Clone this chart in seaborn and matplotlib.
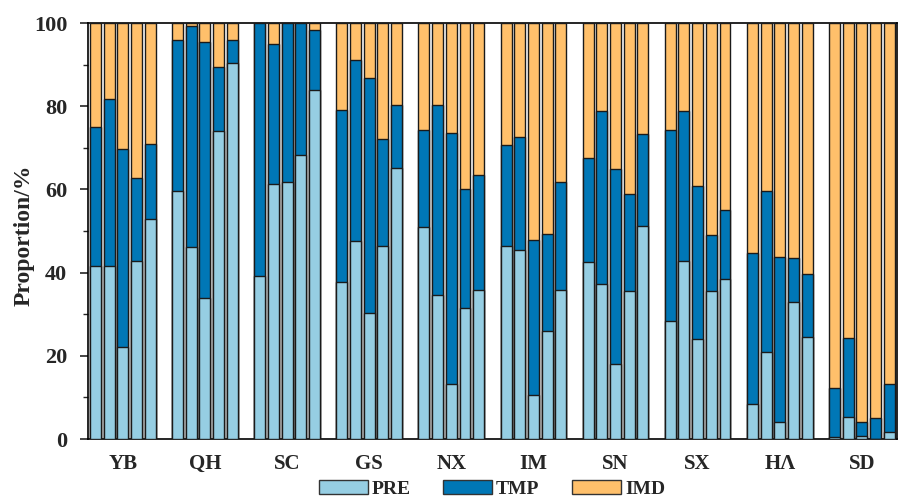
import numpy as np
import pandas as pd
import matplotlib
matplotlib.use("Agg")
import matplotlib.pyplot as plt
import seaborn as sns
from matplotlib.patches import Patch
from matplotlib.ticker import MultipleLocator

regions = ["YB", "QH", "SC", "GS", "NX", "IM", "SN", "SX", "HΛ", "SD"]
series = ["PRE", "TMP", "IMD"]

# PRE share (%) for the 5 bars of each region
pre = [
    [41.7, 41.6, 22.2, 42.8, 52.8],   # YB
    [59.5, 46.1, 34.0, 74.1, 90.3],   # QH
    [39.2, 61.2, 61.7, 68.3, 83.8],   # SC
    [37.8, 47.5, 30.2, 46.4, 65.2],   # GS
    [51.0, 34.5, 13.2, 31.6, 35.9],   # NX
    [46.4, 45.5, 10.6, 26.0, 35.7],   # IM
    [42.6, 37.2, 18.0, 35.5, 51.1],   # SN
    [28.3, 42.7, 24.0, 35.5, 38.5],   # SX
    [8.5, 20.8, 4.2, 33.0, 24.4],     # HA
    [0.4, 5.4, 0.8, 0.0, 1.8],        # SD
]
# TMP share (%)
tmp = [
    [33.3, 40.2, 47.4, 20.0, 18.0],
    [36.5, 53.3, 61.4, 15.3, 5.6],
    [60.8, 33.8, 38.3, 31.7, 14.5],
    [41.2, 43.7, 56.7, 25.6, 15.2],
    [23.3, 45.9, 60.4, 28.4, 27.6],
    [24.3, 27.1, 37.2, 23.4, 26.0],
    [24.9, 41.6, 46.9, 23.4, 22.1],
    [46.1, 36.2, 36.7, 13.5, 16.5],
    [36.2, 38.7, 39.6, 10.5, 15.3],
    [11.9, 18.8, 3.2, 5.0, 11.4],
]
# IMD share (%)
imd = [
    [25.0, 18.2, 30.4, 37.2, 29.2],
    [4.0, 0.6, 4.6, 10.6, 4.1],
    [0.0, 5.0, 0.0, 0.0, 1.7],
    [21.0, 8.8, 13.1, 28.0, 19.6],
    [25.7, 19.6, 26.4, 40.0, 36.5],
    [29.3, 27.4, 52.2, 50.6, 38.3],
    [32.5, 21.2, 35.1, 41.1, 26.8],
    [25.6, 21.1, 39.3, 51.0, 45.0],
    [55.3, 40.5, 56.2, 56.5, 60.3],
    [87.7, 75.8, 96.0, 95.0, 86.8],
]

colors = {"PRE": "#96CEE3", "TMP": "#0077B6", "IMD": "#FFC06B"}

rows = []
for g, reg in enumerate(regions):
    for j in range(5):
        p, t, m = pre[g][j], tmp[g][j], imd[g][j]
        rows.append({"pos": g * 6 + j, "region": reg,
                     "PRE": p, "PRE_TMP": p + t, "ALL": p + t + m})
df = pd.DataFrame(rows)

sns.set_style("ticks")
plt.rcParams["font.family"] = ["Liberation Serif", "DejaVu Serif"]
plt.rcParams["font.weight"] = "bold"

fig = plt.figure(figsize=(9.04, 4.97), dpi=100)
ax = fig.add_axes([0.0973, 0.1167, 0.8947, 0.837])

kw = dict(native_scale=True, width=0.8, edgecolor="#1a1a1a", linewidth=1.0,
          errorbar=None, ax=ax, zorder=3)
sns.barplot(data=df, x="pos", y="ALL", color=colors["IMD"], saturation=1, **kw)
sns.barplot(data=df, x="pos", y="PRE_TMP", color=colors["TMP"], saturation=1, **kw)
sns.barplot(data=df, x="pos", y="PRE", color=colors["PRE"], saturation=1, **kw)

ax.set_xlim(-0.55, 58.55)
ax.set_ylim(0, 100)
ax.set_xticks([g * 6 + 2 for g in range(len(regions))])
ax.set_xticklabels(regions, fontsize=15, fontweight="bold")
ax.tick_params(axis="x", length=0, pad=11)
ax.yaxis.set_major_locator(MultipleLocator(20))
ax.yaxis.set_minor_locator(MultipleLocator(10))
ax.tick_params(axis="y", which="major", length=6, width=1.2, labelsize=16, pad=9, direction="out")
ax.tick_params(axis="y", which="minor", length=3.5, width=1.0, direction="out")
for lab in ax.get_yticklabels():
    lab.set_fontweight("bold")
ax.set_xlabel("")
ax.set_ylabel("Proportion/%", fontsize=17, fontweight="bold")
ax.yaxis.set_label_coords(-0.066, 0.49)
for s in ax.spines.values():
    s.set_linewidth(1.2)
    s.set_color("black")

handles = [Patch(facecolor=colors[s], edgecolor="#333333", linewidth=1.0, label=s) for s in series]
ax.legend(handles=handles, loc="lower center",
          bbox_to_anchor=(492 / 904, -0.005), bbox_transform=fig.transFigure,
          ncol=3, frameon=False, handlelength=2.5, handleheight=0.75,
          handletextpad=0.2, columnspacing=1.7, borderpad=0.1, borderaxespad=0.0,
          prop={"weight": "bold", "size": 14})

fig.savefig("out.png", dpi=100)
